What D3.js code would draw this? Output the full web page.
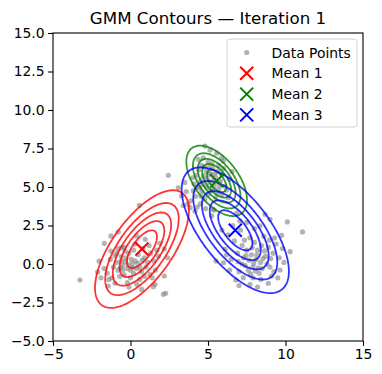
<!DOCTYPE html>
<html>
<head>
<meta charset="utf-8">
<script src="https://cdn.jsdelivr.net/npm/d3@7"></script>
<style>
  body { margin: 0; background: #fff; }
  svg { display: block; font-family: "DejaVu Sans", sans-serif; }
</style>
</head>
<body>
<svg id="chart" width="382" height="374"></svg>
<script>
// data points (three visible clusters)
const pointsA = [
  [-3.26,-1.04],[-2.12,-0.52],[-2.03,0.19],[-1.69,1.34],[-1.26,1.82],[-0.79,2.08],[0.57,3.81],[0.40,1.82],
  [-1.26,0.84],[-1.00,0.52],[-0.57,1.06],[-0.35,0.84],[-1.39,-1.00],[-1.43,-1.43],[-1.00,-1.25],[0.72,-1.65],
  [1.58,-1.32],[1.47,-1.47],[2.18,-0.78],[2.27,-1.90],[2.12,-1.97],[1.26,-0.67],[1.80,0.52],[2.18,0.99],
  [1.90,1.34],[0.10,0.00],[-0.20,-0.30],[0.30,0.20],[-0.50,-0.10],[0.60,-0.20],[-0.80,-0.40],[0.90,0.40],
  [0.20,-0.60],[-0.30,0.40],[0.50,0.60],[-0.60,0.20],[1.10,0.10],[-1.10,-0.20],[0.00,-0.90],[0.70,-0.50],
  [-0.40,-0.70],[0.40,-0.30],[-0.10,0.70],[1.30,0.70],[-0.90,0.10],[0.80,1.00],[-0.70,-0.80],[0.20,0.90],
  [1.00,-0.20],[-1.50,-0.60],[1.50,0.20],[-0.20,-1.20],[0.60,-1.00],[-1.30,0.30],[0.30,1.30],[-0.50,-0.40],
  [0.05,0.30],[-0.15,-0.05],[0.45,0.05],[0.15,-0.25],[-0.35,0.15],[0.75,0.25],[-0.65,-0.25],[1.20,1.20],
  [-1.70,-0.30],[-1.90,-0.90],[-0.90,0.70],[0.90,-0.80],[1.60,-0.40],[-0.10,-1.50],[0.40,-1.30],[-0.60,0.50],
  [0.00,-0.40],[1.40,-0.90],[-1.20,-0.90],[-0.80,1.00],[-0.40,1.10],[1.70,0.90],[2.40,0.40],[0.95,1.60]
];
const pointsB = [
  [4.81,7.66],[5.13,7.40],[5.56,7.19],[5.88,6.90],[4.38,6.80],[4.60,6.40],[5.00,6.60],[5.30,6.20],
  [5.70,6.40],[6.00,6.20],[4.90,6.00],[5.20,5.80],[5.50,5.60],[4.70,5.70],[5.10,5.30],[5.40,5.10],
  [5.80,5.40],[6.10,5.06],[4.50,5.40],[4.90,5.00],[5.30,4.80],[5.70,4.90],[6.31,4.31],[4.30,5.00],
  [4.60,4.70],[5.00,4.50],[5.50,4.30],[4.20,4.40],[3.08,4.95],[3.30,4.42],[3.60,4.70],[3.84,3.66],
  [4.16,3.44],[5.24,3.12],[4.00,5.60],[4.40,6.10],[5.90,5.80],[6.40,5.50],[4.80,4.20],[3.90,4.10],
  [4.50,3.90],[5.10,5.90],[5.60,6.00],[4.70,6.90],[5.35,5.45],[4.95,5.55],[5.25,6.50],[4.10,5.20],
  [3.50,5.30],[2.44,5.76],[4.55,4.40],[6.20,4.80],[5.90,4.50],[4.30,3.70],[3.70,3.90],[4.85,3.60],
  [5.45,5.85],[5.05,6.25],[4.65,5.15],[5.75,5.20],[4.25,5.75],[5.15,4.75],[5.60,4.60],[4.75,6.30],
  [6.55,6.00],[6.00,6.70],[4.05,4.75],[3.40,3.80],[5.40,3.50],[4.45,4.95]
];
const pointsC = [
  [10.12,2.73],[11.10,2.08],[9.75,1.86],[8.68,3.23],[9.00,2.90],[8.35,2.47],[7.71,-1.32],[8.89,-1.25],
  [6.80,-1.04],[9.65,-0.39],[9.10,-0.78],[7.28,-0.89],[5.52,0.19],[6.00,0.08],[6.10,0.95],[5.34,3.55],
  [8.10,0.30],[7.80,0.60],[8.40,0.10],[7.50,0.90],[8.70,0.50],[7.90,-0.20],[8.20,0.90],[7.30,0.40],
  [8.90,1.10],[7.60,-0.40],[8.50,-0.30],[7.20,1.20],[9.20,0.70],[8.00,1.40],[6.90,0.70],[9.40,1.30],
  [8.30,-0.60],[7.40,-0.10],[8.80,0.00],[7.70,1.70],[9.60,0.40],[6.70,1.50],[8.60,1.80],[7.00,-0.50],
  [9.00,-0.20],[8.15,0.60],[7.95,0.05],[8.45,1.20],[7.65,0.25],[9.30,1.70],[6.50,0.30],[6.30,1.90],
  [6.60,2.50],[7.10,2.20],[7.50,2.70],[8.00,2.30],[9.80,1.00],[9.50,-0.90],[8.40,-1.00],[7.90,-0.90],
  [6.40,-0.40],[7.20,0.00],[8.25,-0.25],[8.65,0.85],[7.85,1.05],[8.55,0.35],[7.45,0.55],[9.05,0.35],
  [7.75,-0.65],[8.05,-0.45],[6.95,0.15],[9.25,-0.50],[8.95,1.55],[7.35,1.55],[6.20,0.60],[9.90,0.10],
  [7.05,2.80],[6.85,3.30],[5.90,2.20],[10.30,0.80],[8.20,-1.50],[7.00,-1.40]
];

// gaussian components after iteration 1
const means = [[0.74, 0.97], [5.56, 5.40], [6.76, 2.19]];
const covs = [
  [[2.56, 2.13], [2.13, 4.07]],
  [[1.07, -0.68], [-0.68, 1.46]],
  [[3.34, -2.57], [-2.57, 4.65]]
];
const meanLabels = ['Mean 1', 'Mean 2', 'Mean 3'];
const meanColors = ['red', 'green', 'blue'];
// contour levels as fractions of each component's peak density
const levelFractions = [1/6, 2/6, 3/6, 4/6, 5/6];

const xTicks = [-5, 0, 5, 10, 15];
const yTicks = [-5, -2.5, 0, 2.5, 5, 7.5, 10, 12.5, 15];

const svg = d3.select('#chart');
const margin = { top: 33, right: 19, bottom: 33, left: 53 };
const width = +svg.attr('width');
const height = +svg.attr('height');

const x = d3.scaleLinear().domain([-5, 15]).range([margin.left, width - margin.right]);
const y = d3.scaleLinear().domain([-5, 15]).range([height - margin.bottom, margin.top]);

// clip to axes area
svg.append('clipPath').attr('id', 'clip')
  .append('rect')
  .attr('x', margin.left).attr('y', margin.top)
  .attr('width', x(15) - x(-5)).attr('height', y(-5) - y(15));

const plot = svg.append('g').attr('clip-path', 'url(#clip)');

// scatter of all points
const allPoints = pointsA.concat(pointsB, pointsC);
plot.append('g')
  .selectAll('circle')
  .data(allPoints)
  .enter().append('circle')
  .attr('cx', d => x(d[0]))
  .attr('cy', d => y(d[1]))
  .attr('r', 2.6)
  .attr('fill', 'gray')
  .attr('fill-opacity', 0.6);

// contour ellipses: x = mu + r * L * [cos t, sin t]
const line = d3.line()
  .x(d => x(d[0]))
  .y(d => y(d[1]))
  .curve(d3.curveLinearClosed);

means.forEach((mu, k) => {
  const S = covs[k];
  const l11 = Math.sqrt(S[0][0]);
  const l21 = S[1][0] / l11;
  const l22 = Math.sqrt(S[1][1] - l21 * l21);
  levelFractions.forEach(f => {
    const r = Math.sqrt(-2 * Math.log(f));
    const pts = d3.range(0, 2 * Math.PI, Math.PI / 90).map(t => {
      const u = r * Math.cos(t), v = r * Math.sin(t);
      return [mu[0] + l11 * u, mu[1] + l21 * u + l22 * v];
    });
    plot.append('path')
      .attr('d', line(pts))
      .attr('fill', 'none')
      .attr('stroke', meanColors[k])
      .attr('stroke-opacity', 0.8)
      .attr('stroke-width', 1.8);
  });
});

// mean markers
const xMark = s => `M${-s},${-s}L${s},${s}M${-s},${s}L${s},${-s}`;
plot.append('g')
  .selectAll('path')
  .data(means)
  .enter().append('path')
  .attr('transform', d => 'translate(' + x(d[0]) + ',' + y(d[1]) + ')')
  .attr('d', xMark(6.5))
  .attr('stroke', (d, i) => meanColors[i])
  .attr('stroke-width', 2)
  .attr('fill', 'none');

// axes
const xAxis = svg.append('g')
  .attr('transform', 'translate(0,' + (height - margin.bottom) + ')')
  .call(d3.axisBottom(x).tickValues(xTicks).tickSize(4.9).tickPadding(3.5).tickFormat(d3.format('d')));
const yAxis = svg.append('g')
  .attr('transform', 'translate(' + margin.left + ',0)')
  .call(d3.axisLeft(y).tickValues(yTicks).tickSize(4.9).tickPadding(3.5).tickFormat(d3.format('.1f')));

[xAxis, yAxis].forEach(a => {
  a.select('.domain').remove();
  a.selectAll('line').attr('stroke', '#000').attr('stroke-width', 1.1);
  a.selectAll('text').attr('fill', '#000').style('font-size', '13.9px').style('font-family', 'DejaVu Sans');
});

// frame
svg.append('rect')
  .attr('x', x(-5)).attr('y', y(15))
  .attr('width', x(15) - x(-5)).attr('height', y(-5) - y(15))
  .attr('fill', 'none').attr('stroke', '#000').attr('stroke-width', 1.1);

// title
svg.append('text')
  .attr('x', (x(-5) + x(15)) / 2)
  .attr('y', 24)
  .attr('text-anchor', 'middle')
  .style('font-size', '16.7px')
  .text('GMM Contours \u2014 Iteration 1');

// legend
const legend = svg.append('g').attr('transform', 'translate(227,39)');
legend.append('rect')
  .attr('width', 130).attr('height', 88).attr('rx', 3)
  .attr('fill', 'white').attr('fill-opacity', 0.8)
  .attr('stroke', '#d0d0d0').attr('stroke-width', 1);

const rowY = i => 13.5 + i * 20.8;
legend.append('circle')
  .attr('cx', 19.7).attr('cy', rowY(0)).attr('r', 2.6)
  .attr('fill', 'gray').attr('fill-opacity', 0.6);
legend.append('text')
  .attr('x', 44.5).attr('y', rowY(0) + 5)
  .style('font-size', '13.9px')
  .text('Data Points');

meanLabels.forEach((lab, i) => {
  legend.append('path')
    .attr('transform', 'translate(19.7,' + rowY(i + 1) + ')')
    .attr('d', xMark(6.5))
    .attr('stroke', meanColors[i]).attr('stroke-width', 2).attr('fill', 'none');
  legend.append('text')
    .attr('x', 44.5).attr('y', rowY(i + 1) + 5)
    .style('font-size', '13.9px')
    .text(lab);
});
</script>
</body>
</html>
